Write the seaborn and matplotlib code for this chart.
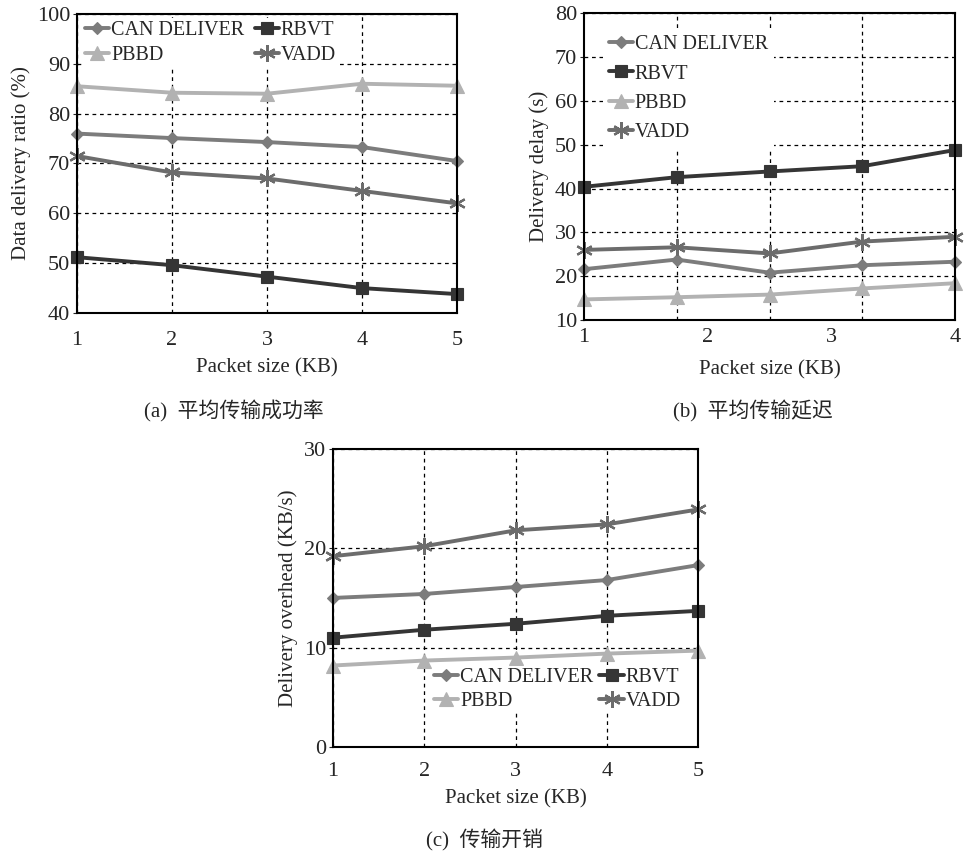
import pandas as pd
import seaborn as sns
import matplotlib.pyplot as plt
import numpy as np

# data
series = ['CAN DELIVER', 'PBBD', 'RBVT', 'VADD']

x_a = [1, 2, 3, 4, 5]
ratio_can = [76.0, 75.1, 74.3, 73.3, 70.5]
ratio_pbbd = [85.5, 84.2, 84.0, 86.0, 85.6]
ratio_rbvt = [51.2, 49.6, 47.3, 45.0, 43.8]
ratio_vadd = [71.5, 68.2, 67.0, 64.5, 62.0]

x_b = [1, 1.75, 2.5, 3.25, 4]
delay_can = [21.6, 23.8, 20.8, 22.5, 23.3]
delay_pbbd = [14.7, 15.2, 15.8, 17.2, 18.4]
delay_rbvt = [40.4, 42.6, 43.9, 45.1, 48.8]
delay_vadd = [26.0, 26.6, 25.2, 27.9, 29.0]

x_c = [1, 2, 3, 4, 5]
over_can = [15.0, 15.4, 16.1, 16.8, 18.3]
over_pbbd = [8.2, 8.7, 9.0, 9.4, 9.7]
over_rbvt = [11.0, 11.8, 12.4, 13.2, 13.7]
over_vadd = [19.2, 20.2, 21.8, 22.4, 23.9]

colors = {'CAN DELIVER': '#7c7c7c', 'PBBD': '#b2b2b2', 'RBVT': '#353535', 'VADD': '#6c6c6c'}
marks = {'CAN DELIVER': 'D', 'PBBD': '^', 'RBVT': 's', 'VADD': (6, 2, 0)}
msize = {'CAN DELIVER': 6.5, 'PBBD': 10, 'RBVT': 9, 'VADD': 12}

sns.set_style('white')
plt.rcParams['font.family'] = ['Liberation Serif', 'Noto Sans CJK SC']
plt.rcParams['axes.unicode_minus'] = False


def draw(ax, x, vals, ylim, yticks, xticks, ylabel, xpad, lpad):
    for name, v in zip(series, vals):
        df = pd.DataFrame({'x': x, 'y': v})
        sns.lineplot(data=df, x='x', y='y', ax=ax, color=colors[name], lw=2.8,
                     marker=marks[name], markersize=msize[name], clip_on=False,
                     mec=colors[name], mew=1.6 if name == 'VADD' else 0.8, label=name)
    ax.set_xlim(x[0], x[-1])
    ax.set_ylim(*ylim)
    ax.set_yticks(yticks)
    ax.set_xticks(xticks)
    ax.set_ylabel(ylabel, fontsize=15)
    ax.set_xlabel('Packet size (KB)', fontsize=15, labelpad=lpad)
    ax.tick_params(labelsize=16, length=3, direction='out')
    ax.tick_params(axis='y', left=True, pad=2)
    ax.tick_params(axis='x', bottom=False, pad=xpad)
    for s in ax.spines.values():
        s.set_color('black')
        s.set_linewidth(1.5)
    ax.set_axisbelow(True)


def white_legend(leg):
    leg.get_frame().set_edgecolor('none')
    leg.get_frame().set_alpha(1)


fig = plt.figure(figsize=(9.67, 8.52), dpi=100)

# (a)
ax1 = fig.add_axes([0.0796, 0.6326, 0.393, 0.351])
draw(ax1, x_a, [ratio_can, ratio_pbbd, ratio_rbvt, ratio_vadd], (40, 100),
     range(40, 101, 10), x_a, 'Data delivery ratio (%)', 10, 6)
ax1.grid(True, color='black', ls=(0, (3, 3)), lw=0.9)
white_legend(ax1.legend(ncol=2, loc='upper left', fontsize=14.5, frameon=True, fancybox=False,
                        borderpad=0.1, borderaxespad=0, handlelength=1.2, handletextpad=0.1,
                        columnspacing=0.5, labelspacing=0.3, bbox_to_anchor=(0.016, 0.985)))

# (b)
ax2 = fig.add_axes([0.604, 0.6244, 0.3837, 0.360])
draw(ax2, x_b, [delay_can, delay_pbbd, delay_rbvt, delay_vadd], (10, 80),
     range(10, 81, 10), [1, 2, 3, 4], 'Delivery delay (s)', 3, 9)
ax2.set_xticks(x_b[1:-1], minor=True)
ax2.tick_params(which='minor', length=0)
ax2.grid(True, axis='y', color='black', ls=(0, (3, 3)), lw=0.9)
ax2.grid(True, axis='x', which='minor', color='black', ls=(0, (3, 3)), lw=0.9)
h, l = ax2.get_legend_handles_labels()
order = [0, 2, 1, 3]
white_legend(ax2.legend([h[i] for i in order], [l[i] for i in order], loc='upper left',
                        fontsize=14.5, frameon=True, fancybox=False, borderpad=0.3,
                        borderaxespad=0, handlelength=1.2, handletextpad=0.1,
                        labelspacing=0.5, bbox_to_anchor=(0.05, 0.948)))

# (c)
ax3 = fig.add_axes([0.3444, 0.1232, 0.3775, 0.350])
draw(ax3, x_c, [over_can, over_pbbd, over_rbvt, over_vadd], (0, 30),
     [0, 10, 20, 30], x_c, 'Delivery overhead (KB/s)', 8, 6)
ax3.grid(True, color='black', ls=(0, (3, 3)), lw=0.9)
white_legend(ax3.legend(ncol=2, loc='lower right', fontsize=14.5, frameon=True, fancybox=False,
                        borderpad=0.1, borderaxespad=0, handlelength=1.2, handletextpad=0.1,
                        columnspacing=0.3, labelspacing=0.25, bbox_to_anchor=(0.958, 0.114)))

fig.text(234 / 967, 1 - 411 / 852, '(a)  平均传输成功率', ha='center', va='center', fontsize=15)
fig.text(753 / 967, 1 - 411 / 852, '(b)  平均传输延迟', ha='center', va='center', fontsize=15)
fig.text(484 / 967, 1 - 840 / 852, '(c)  传输开销', ha='center', va='center', fontsize=15)

fig.savefig('out.png', dpi=100)
